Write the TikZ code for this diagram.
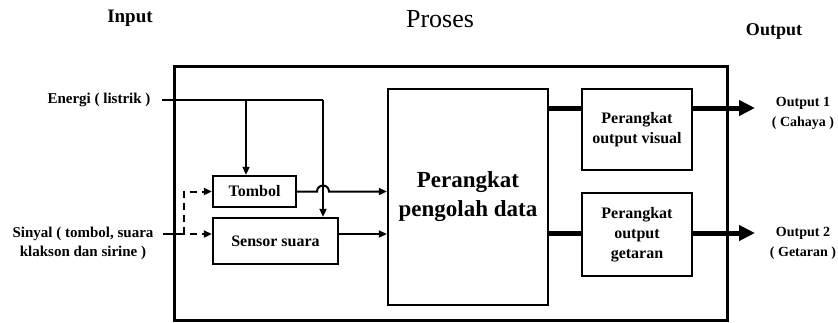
\documentclass[tikz,border=0pt]{standalone}
\usepackage{fontspec}
\setmainfont{Liberation Serif}
\usetikzlibrary{arrows.meta, calc}

\begin{document}
\begin{tikzpicture}[x=1pt, y=-1pt, >={Triangle[length=8pt, width=7pt]},
    blok/.style={draw, line width=2.4pt, inner sep=0pt, align=center, font=\bfseries\fontsize{16}{20}\selectfont},
    lbl/.style={align=center, font=\bfseries\fontsize{15}{19}\selectfont},
    panah/.style={->, line width=2pt},
    tebal/.style={line width=5pt},
    putus/.style={line width=2pt, dash pattern=on 7pt off 5pt}]
  \useasboundingbox (0,0) rectangle (838,322);
  % judul kolom
  \node[font=\bfseries\fontsize{19}{20}\selectfont] (jin) at (130,18) {Input};
  \node[font=\fontsize{26}{28}\selectfont] (jpro) at (440,19) {Proses};
  \node[font=\bfseries\fontsize{18}{20}\selectfont] (jout) at (774,31) {Output};
  % blok
  \node[draw, line width=3pt, minimum width=553pt, minimum height=254pt] (sistem) at (450.5,193) {};
  \node[blok, minimum width=160pt, minimum height=216pt, font=\bfseries\fontsize{23}{29}\selectfont] (proc) at (468,197) {Perangkat\\pengolah data};
  \node[blok, minimum width=110pt, minimum height=81pt] (vis) at (637,129.5) {Perangkat\\output visual};
  \node[blok, minimum width=110pt, minimum height=83pt] (get) at (637,234.5) {Perangkat\\output\\getaran};
  \node[blok, minimum width=83pt, minimum height=31pt] (tombol) at (254.5,191.5) {Tombol};
  \node[blok, minimum width=125pt, minimum height=46pt] (sensor) at (275.5,241) {Sensor suara};
  % label masukan dan keluaran
  \node[lbl, anchor=east] (energi) at (154,100) {Energi ( listrik )};
  \node[lbl] (sinyal) at (83,243) {Sinyal ( tombol, suara\\klakson dan sirine )};
  \node[lbl, font=\bfseries\fontsize{14}{20}\selectfont] (o1) at (803,113) {Output 1\\( Cahaya )};
  \node[lbl, font=\bfseries\fontsize{14}{20}\selectfont] (o2) at (803,243) {Output 2\\( Getaran )};
  \coordinate (ein) at (162,100);
  \coordinate (cab) at (246,100);
  \coordinate (turun) at (323,100);
  \coordinate (sin) at (163,234);
  \coordinate (pecah) at (184,234);
  \coordinate (out1) at (755,108);
  \coordinate (out2) at (755,233);
  % energi
  \draw[line width=2pt] (ein) -- (turun);
  \draw[panah] (cab) -- (cab |- tombol.north);
  \draw[panah] (turun) -- (turun |- sensor.north);
  % sinyal
  \draw[line width=2pt] (sin) -- ($(sin)+(15,0)$);
  \draw[putus, ->] ($(sin)+(15,0)$) -- ([yshift=7pt]sensor.west);
  \draw[putus, ->] (pecah) -- (pecah |- tombol.west) -- (tombol.west);
  % ke pengolah data
  \draw[panah] (tombol.east) -- ($(turun |- tombol.east)+(-6,0)$) arc[start angle=180, end angle=360, radius=6] -- (tombol.east -| proc.west);
  \draw[panah] ([yshift=7pt]sensor.east) -- ([yshift=7pt]sensor.east -| proc.west);
  % keluaran
  \draw[tebal] (proc.east |- out1) -- (vis.west |- out1);
  \draw[tebal] (proc.east |- out2) -- (get.west |- out2);
  \draw[tebal, -{Triangle[length=16pt, width=15pt]}] (vis.east |- out1) -- (out1);
  \draw[tebal, -{Triangle[length=16pt, width=15pt]}] (get.east |- out2) -- (out2);
\end{tikzpicture}
\end{document}
